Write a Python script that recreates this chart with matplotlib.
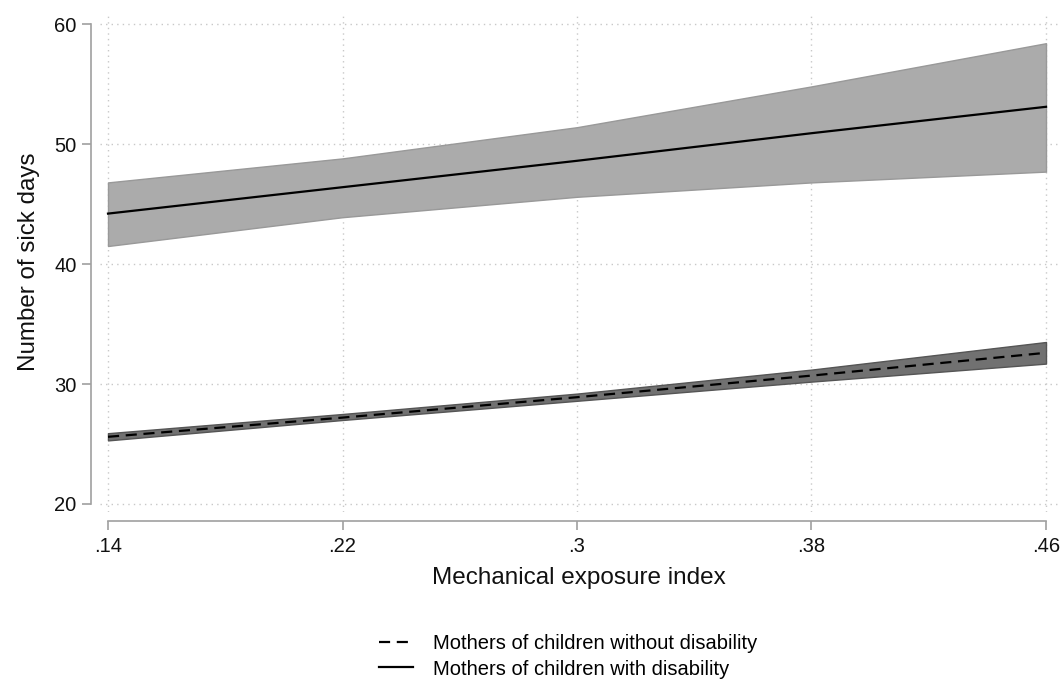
import matplotlib
matplotlib.use("Agg")
import matplotlib.pyplot as plt
from matplotlib.lines import Line2D

plt.rcParams['font.family'] = ['Liberation Sans', 'DejaVu Sans']

exposure = [0.14, 0.22, 0.30, 0.38, 0.46]
xtick_labels = ['.14', '.22', '.3', '.38', '.46']
yticks = [20, 30, 40, 50, 60]

with_dis = [44.2, 46.4, 48.6, 50.9, 53.1]
with_dis_lo = [41.5, 43.9, 45.6, 46.8, 47.7]
with_dis_hi = [46.8, 48.8, 51.4, 54.8, 58.4]

without_dis = [25.6, 27.2, 28.9, 30.7, 32.6]
without_dis_lo = [25.3, 27.0, 28.6, 30.2, 31.7]
without_dis_hi = [25.9, 27.5, 29.2, 31.2, 33.5]

fig = plt.figure(figsize=(10.6, 6.85), dpi=100)
ax = fig.add_axes([100/1060, 1 - 512/685, 958/1060, 500/685])

ax.fill_between(exposure, with_dis_lo, with_dis_hi, facecolor='#ababab',
                edgecolor='#999999', linewidth=1.0, zorder=2)
ax.fill_between(exposure, without_dis_lo, without_dis_hi, facecolor='#717171',
                edgecolor='#555555', linewidth=1.0, zorder=2)
ax.plot(exposure, without_dis, color='black', linestyle=(0, (5, 3)), linewidth=1.6, zorder=3)
ax.plot(exposure, with_dis, color='black', linestyle='-', linewidth=1.6, zorder=3)

ax.set_xlim(0.14 - 8/2931, 0.46 + 12/2931)
ax.set_ylim(20 - 8/12, 61)

ax.set_xticks(exposure)
ax.set_xticklabels(xtick_labels)
ax.set_yticks(yticks)

ax.grid(True, color='#c8c8c8', linestyle=(0, (1, 3)), linewidth=1.0, zorder=0)
ax.set_axisbelow(True)

for s in ['top', 'right']:
    ax.spines[s].set_visible(False)
ax.spines['left'].set_position(('outward', 6.5))
ax.spines['bottom'].set_position(('outward', 6.5))
ax.spines['left'].set_bounds(20, 60)
ax.spines['bottom'].set_bounds(0.14, 0.46)
for s in ['left', 'bottom']:
    ax.spines[s].set_color('#a0a0a0')
    ax.spines[s].set_linewidth(1.2)
ax.tick_params(axis='both', colors='#a0a0a0', length=6.5, width=1.2, labelsize=14.5,
               labelcolor='#111111')
ax.tick_params(axis='x', pad=5)
ax.tick_params(axis='y', pad=4)

ax.set_xlabel('Mechanical exposure index', fontsize=17.5, color='#111111', labelpad=8)
ax.set_ylabel('Number of sick days', fontsize=17.4, color='#111111', labelpad=10)

handles = [Line2D([], [], color='black', linestyle=(0, (5, 3)), linewidth=1.6),
           Line2D([], [], color='black', linestyle='-', linewidth=1.6)]
fig.legend(handles, ['Mothers of children without disability', 'Mothers of children with disability'],
           loc='center', bbox_to_anchor=(0.536, 1 - 656.5/685), frameon=False,
           fontsize=14.5, handlelength=1.65, labelspacing=0.3, handletextpad=1.0,
           borderpad=0.0)

fig.savefig('out.png', dpi=100, facecolor='white')
